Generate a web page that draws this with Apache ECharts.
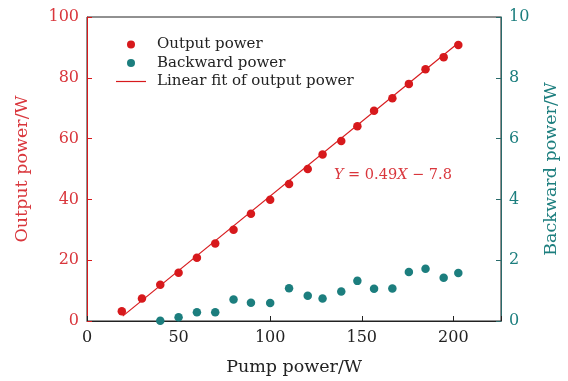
<!DOCTYPE html>
<html>
<head>
<meta charset="utf-8">
<script src="https://cdn.jsdelivr.net/npm/echarts@6/dist/echarts.min.js"></script>
<style>
  html, body { margin: 0; padding: 0; background: #fff; }
  #chart { width: 568px; height: 381px; }
</style>
</head>
<body>
<div id="chart"></div>
<script>
// pump power (W) for each measured point
const pumpPower = [19, 30, 40, 50, 60, 70, 80, 89.5, 100, 110.3, 120.5, 128.6, 138.8, 147.6, 156.7, 166.7, 175.7, 184.8, 194.7, 202.7]
// output power (W), left axis
const outputPower = [3.2, 7.4, 11.9, 15.9, 20.8, 25.5, 30.0, 35.3, 39.9, 45.1, 50.0, 54.8, 59.2, 64.1, 69.2, 73.3, 78.0, 82.8, 86.8, 90.8]
// backward power (W), right axis, measured from 40 W pump
const backwardPump = [40, 50, 60, 70, 80, 89.5, 100, 110.3, 120.5, 128.6, 138.8, 147.6, 156.7, 166.7, 175.7, 184.8, 194.7, 202.7]
const backwardPower = [0.01, 0.12, 0.29, 0.29, 0.71, 0.60, 0.59, 1.08, 0.83, 0.74, 0.97, 1.32, 1.06, 1.07, 1.61, 1.72, 1.42, 1.58]
// end points of the drawn fit line
const fitX = [19.5, 203]
const fitY = [1.6, 91.6]

const RED = '#d7191c'
const RED_TEXT = '#d9363c'
const TEAL = '#1c7e7e'
const TEAL_AXIS = '#2a6b6b'
const FONT = 'DejaVu Serif'

const chart = echarts.init(document.getElementById('chart'))

const pair = (xs, ys) => xs.map((x, i) => [x, ys[i]])

chart.setOption({
  animation: false,
  textStyle: { fontFamily: FONT },
  grid: {
    left: 87, right: 65, top: 17, bottom: 58,
    show: true, borderColor: '#222', borderWidth: 1
  },
  legend: {
    left: 111, top: 31, orient: 'vertical',
    itemWidth: 30, itemHeight: 8, itemGap: 1.5,
    textStyle: { fontFamily: FONT, fontSize: 15, lineHeight: 17, color: '#222', padding: [0, 0, 0, 6] },
    data: [
      { name: 'Output power', icon: 'circle' },
      { name: 'Backward power', icon: 'circle' },
      { name: 'Linear fit of output power', icon: 'path://M0,0 L30,0 L30,1.2 L0,1.2 Z' }
    ]
  },
  xAxis: {
    type: 'value', min: 0, max: 226, interval: 50,
    name: 'Pump power/W', nameLocation: 'middle', nameGap: 37,
    nameTextStyle: { fontFamily: FONT, fontSize: 17.5, color: '#222' },
    axisLine: { lineStyle: { color: '#222' } },
    axisTick: { inside: true, length: 5, lineStyle: { color: '#222' } },
    axisLabel: {
      fontFamily: FONT, fontSize: 16, color: '#222', margin: 9,
      formatter: v => (v % 50 === 0 ? v : '')
    },
    splitLine: { show: false }
  },
  yAxis: [
    {
      type: 'value', min: 0, max: 100, interval: 20, position: 'left',
      name: 'Output power/W', nameLocation: 'middle', nameGap: 56, nameRotate: 90,
      nameTextStyle: { fontFamily: FONT, fontSize: 17.5, color: RED_TEXT },
      axisLine: { show: true, lineStyle: { color: RED } },
      axisTick: { inside: true, length: 5, lineStyle: { color: RED } },
      axisLabel: { fontFamily: FONT, fontSize: 16, color: RED_TEXT, margin: 8 },
      splitLine: { show: false }
    },
    {
      type: 'value', min: 0, max: 10, interval: 2, position: 'right',
      name: 'Backward power/W', nameLocation: 'middle', nameGap: 41, nameRotate: 90,
      nameTextStyle: { fontFamily: FONT, fontSize: 17.5, color: TEAL },
      axisLine: { show: true, lineStyle: { color: TEAL_AXIS } },
      axisTick: { inside: true, length: 5, lineStyle: { color: TEAL_AXIS } },
      axisLabel: { fontFamily: FONT, fontSize: 16, color: TEAL, margin: 8 },
      splitLine: { show: false }
    }
  ],
  series: [
    {
      name: 'Linear fit of output power', type: 'line', yAxisIndex: 0,
      data: pair(fitX, fitY), symbol: 'none', z: 1,
      lineStyle: { color: RED, width: 1.2 }, itemStyle: { color: RED },
      markPoint: {
        symbolSize: 0,
        data: [{ coord: [167, 48] }],
        label: {
          show: true, position: 'inside',
          formatter: '{i|Y}{n| = 0.49}{i|X}{n| − 7.8}',
          rich: {
            i: { fontFamily: FONT, fontStyle: 'italic', fontSize: 14.5, color: RED_TEXT },
            n: { fontFamily: FONT, fontSize: 14.5, color: RED_TEXT }
          }
        }
      }
    },
    {
      name: 'Output power', type: 'scatter', yAxisIndex: 0,
      data: pair(pumpPower, outputPower), symbolSize: 8.5, z: 3,
      itemStyle: { color: RED, opacity: 1 }
    },
    {
      name: 'Backward power', type: 'scatter', yAxisIndex: 1,
      data: pair(backwardPump, backwardPower), symbolSize: 8.5, z: 3,
      itemStyle: { color: TEAL, opacity: 1 }
    }
  ]
})
</script>
</body>
</html>
